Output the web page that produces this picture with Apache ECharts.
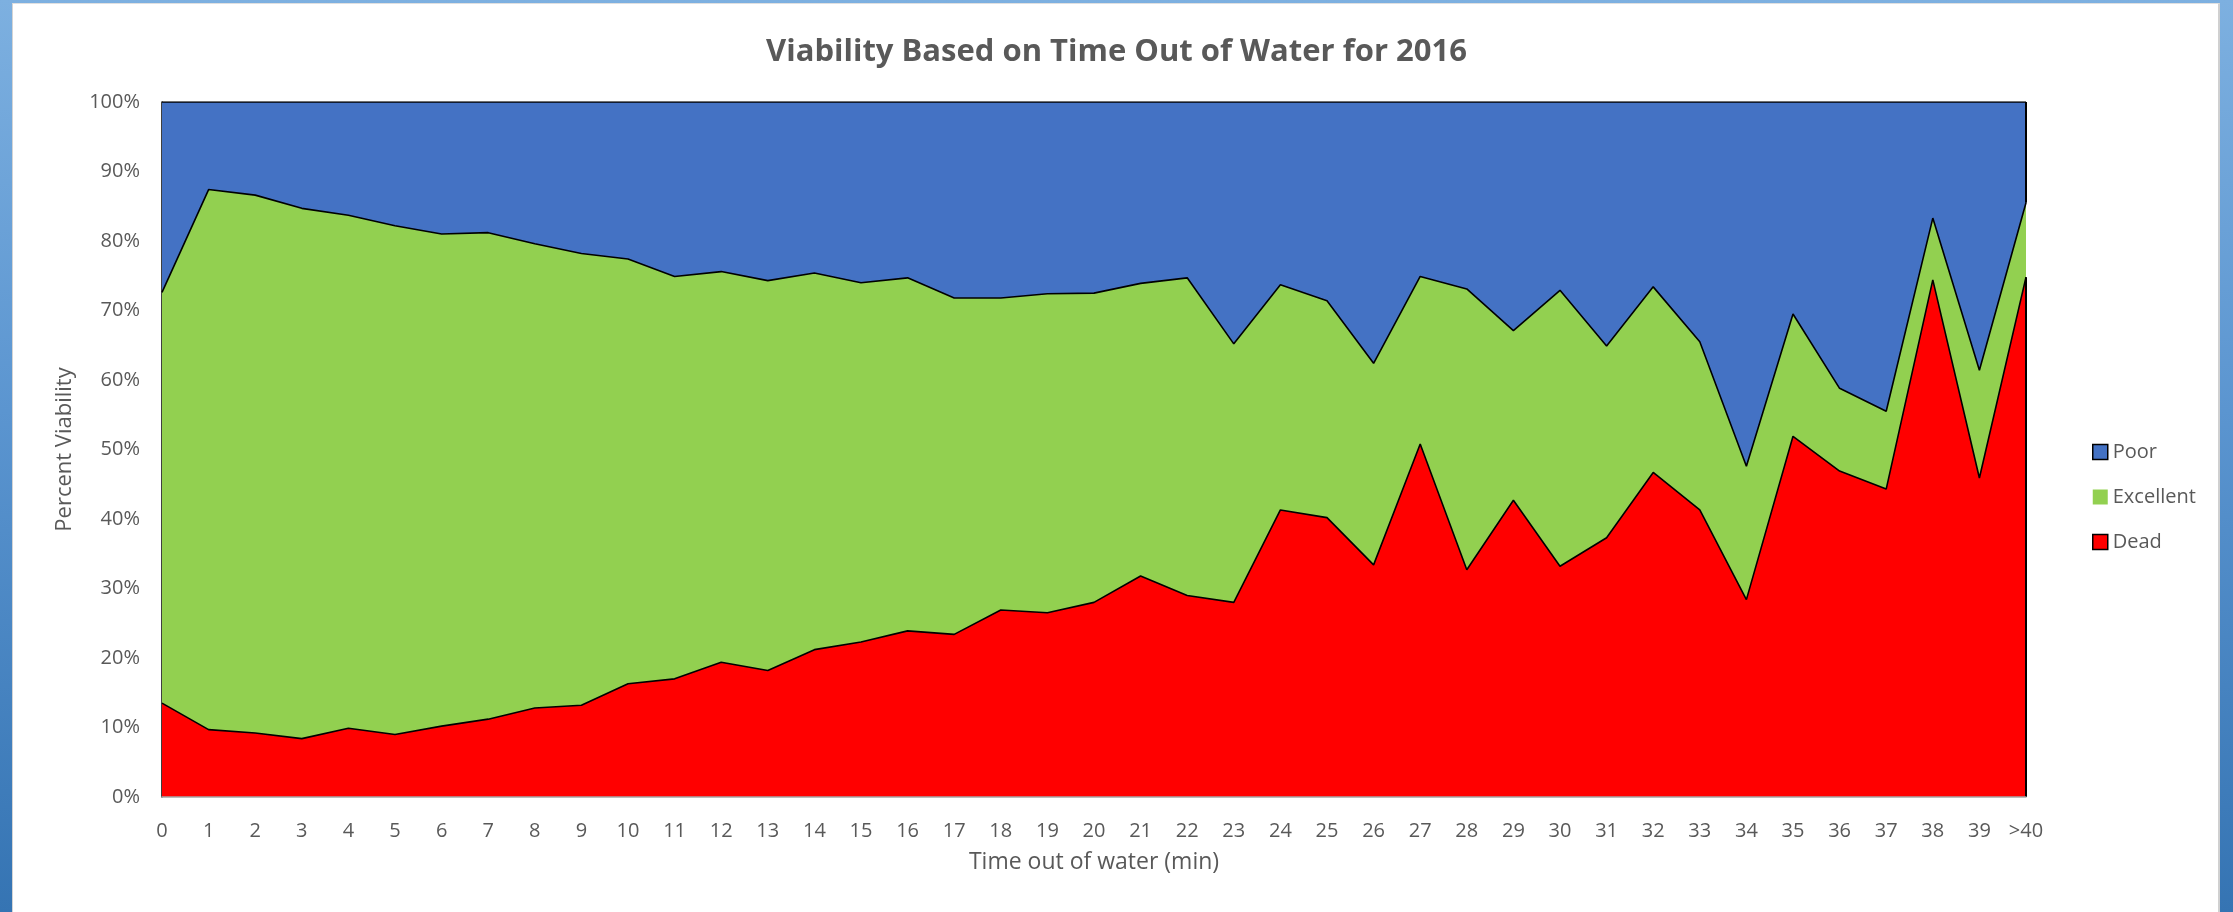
<!DOCTYPE html>
<html>
<head>
<meta charset="utf-8">
<script src="https://cdn.jsdelivr.net/npm/echarts@6/dist/echarts.min.js"></script>
<style>
  html, body { margin: 0; padding: 0; width: 2233px; height: 912px; overflow: hidden; }
  body { background: linear-gradient(to bottom, #7db0e0 0%, #5b95d0 45%, #3574b3 100%); position: relative; }
  #frame { position: absolute; left: 12px; top: 3px; width: 2208px; height: 909px; background: #ffffff; border-left: 1px solid #d4d4d4; border-top: 1px solid #e0e0e0; border-right: 2px solid #d0d0d0; box-sizing: border-box; }
  #chart { position: absolute; left: 0; top: 0; width: 2233px; height: 912px; }
</style>
</head>
<body>
<div id="frame"></div>
<div id="chart"></div>
<script>
const categories = ['0','1','2','3','4','5','6','7','8','9','10','11','12','13','14','15','16','17','18','19','20','21','22','23','24','25','26','27','28','29','30','31','32','33','34','35','36','37','38','39','>40'];
const dead = [13.5, 9.7, 9.2, 8.4, 9.9, 9.0, 10.2, 11.2, 12.8, 13.2, 16.3, 17.0, 19.4, 18.2, 21.2, 22.3, 23.9, 23.4, 26.9, 26.5, 28.0, 31.8, 29.0, 28.0, 41.3, 40.2, 33.4, 50.8, 32.7, 42.7, 33.2, 37.3, 46.7, 41.3, 28.4, 51.9, 46.9, 44.3, 74.4, 45.9, 74.8];
const excellent = [59.1, 77.7, 77.4, 76.3, 73.8, 73.2, 70.8, 70.0, 66.8, 65.0, 61.1, 57.9, 56.2, 56.1, 54.2, 51.7, 50.8, 48.4, 44.9, 45.9, 44.5, 42.1, 45.7, 37.2, 32.4, 31.2, 29.0, 24.1, 40.4, 24.4, 39.7, 27.6, 26.7, 24.2, 19.2, 17.6, 11.9, 11.2, 8.9, 15.5, 10.7];
const poor = [27.4, 12.6, 13.4, 15.3, 16.3, 17.8, 19.0, 18.8, 20.4, 21.8, 22.6, 25.1, 24.4, 25.7, 24.6, 26.0, 25.3, 28.2, 28.2, 27.6, 27.5, 26.1, 25.3, 34.8, 26.3, 28.6, 37.6, 25.1, 26.9, 32.9, 27.1, 35.1, 26.6, 34.5, 52.4, 30.5, 41.2, 44.5, 16.7, 38.6, 14.5];
const yTicks = [0, 10, 20, 30, 40, 50, 60, 70, 80, 90, 100];

const FONT = '"Open Sans", "Liberation Sans", sans-serif';
const GRAY = '#595959';
const C_POOR = '#4472c4', C_EXC = '#92d050', C_DEAD = '#ff0000';

const chart = echarts.init(document.getElementById('chart'), null, { renderer: 'canvas' });

const lastIdx = categories.length - 1;
const lastCat = categories[lastIdx];
const deadLast = dead[lastIdx];
const cumLast = dead[lastIdx] + excellent[lastIdx];

function areaSeries(name, data, color, z, edge) {
  const s = {
    name: name,
    type: 'line',
    stack: 'total',
    data: data,
    symbol: 'none',
    showSymbol: false,
    z: z,
    lineStyle: { color: '#000000', width: 1.6 },
    itemStyle: { color: color },
    areaStyle: { color: color, opacity: 1 },
    emphasis: { disabled: true },
    animation: false
  };
  if (edge) {
    s.markLine = {
      silent: true,
      symbol: 'none',
      label: { show: false },
      lineStyle: { color: '#000000', width: 2, type: 'solid' },
      data: [[{ coord: [lastCat, edge[0]] }, { coord: [lastCat, edge[1]] }]]
    };
  }
  return s;
}

chart.setOption({
  animation: false,
  backgroundColor: 'transparent',
  title: {
    text: 'Viability Based on Time Out of Water for 2016',
    left: 'center',
    top: 32,
    textStyle: { fontFamily: FONT, fontSize: 31, fontWeight: 'bold', color: GRAY }
  },
  legend: {
    orient: 'vertical',
    left: 2087,
    top: 437,
    itemWidth: 15,
    itemHeight: 15,
    itemGap: 25,
    icon: 'rect',
    textStyle: { fontFamily: FONT, fontSize: 20, color: GRAY },
    data: [
      { name: 'Poor', itemStyle: { color: C_POOR, borderColor: '#000', borderWidth: 1.5 } },
      { name: 'Excellent', itemStyle: { color: C_EXC, borderWidth: 0 } },
      { name: 'Dead', itemStyle: { color: C_DEAD, borderColor: '#000', borderWidth: 1.5 } }
    ]
  },
  grid: { left: 162, right: 207, top: 102, bottom: 115, containLabel: false },
  xAxis: {
    type: 'category',
    data: categories,
    boundaryGap: false,
    name: 'Time out of water (min)',
    nameLocation: 'middle',
    nameGap: 54,
    nameTextStyle: { fontFamily: FONT, fontSize: 23, color: GRAY },
    axisLine: { show: true, lineStyle: { color: '#a6a6a6', width: 1.5 } },
    axisTick: { show: false },
    axisLabel: { fontFamily: FONT, fontSize: 20, color: GRAY, margin: 24, interval: 0 },
    splitLine: { show: false },
    z: 10
  },
  yAxis: {
    type: 'value',
    min: yTicks[0],
    max: yTicks[yTicks.length - 1],
    interval: 10,
    name: 'Percent Viability',
    nameLocation: 'middle',
    nameGap: 86,
    nameTextStyle: { fontFamily: FONT, fontSize: 22, color: GRAY },
    axisLine: { show: true, lineStyle: { color: '#000000', width: 1.5 } },
    axisTick: { show: false },
    axisLabel: { fontFamily: FONT, fontSize: 20, color: GRAY, margin: 22, formatter: '{value}%' },
    splitLine: { show: false }
  },
  series: [
    areaSeries('Dead', dead, C_DEAD, 3, [0, deadLast]),
    areaSeries('Excellent', excellent, C_EXC, 2, null),
    areaSeries('Poor', poor, C_POOR, 1, [cumLast, yTicks[yTicks.length - 1]])
  ]
});
</script>
</body>
</html>
